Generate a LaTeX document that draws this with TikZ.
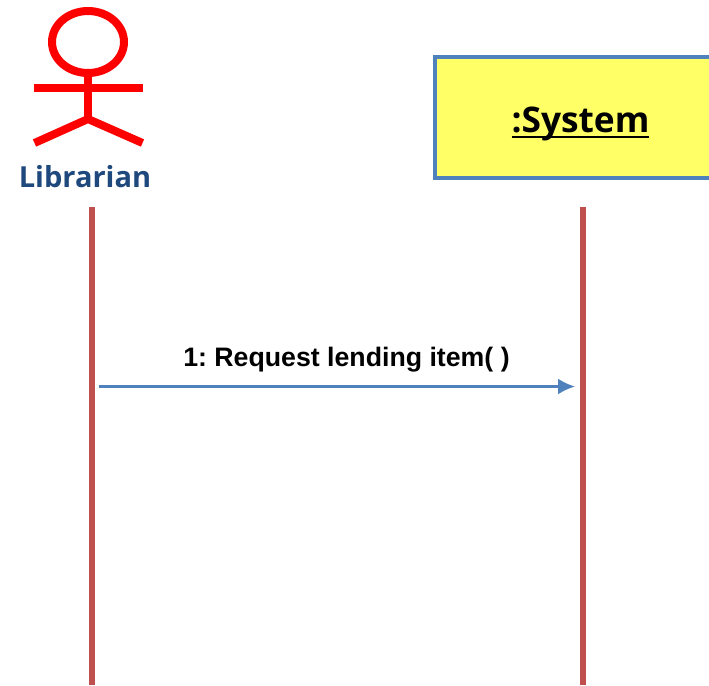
\documentclass[tikz,border=0pt]{standalone}
\usepackage{fontspec}
\setmainfont{Liberation Sans}
\newfontfamily\labelfont{Open Sans}
\usetikzlibrary{arrows.meta}
\definecolor{actorred}{HTML}{FF0000}
\definecolor{lifered}{HTML}{C0504D}
\definecolor{msgblue}{HTML}{4F81BD}
\definecolor{boxyellow}{HTML}{FFFF66}
\definecolor{navy}{HTML}{1F497D}
\newcommand{\thickunder}[1]{\vtop{\hbox{\smash{#1}}\kern4pt\hrule height 2pt}}
\tikzset{
  actorline/.style={draw=actorred,line width=8pt},
  lifeline/.style={draw=lifered,line width=6pt},
  message/.style={draw=msgblue,line width=2.5pt,-{Latex[length=17pt,width=16pt]}},
  objbox/.style={draw=msgblue,fill=boxyellow,line width=4pt}
}
\begin{document}
\begin{tikzpicture}[x=1pt,y=-1pt]
\useasboundingbox (0,0) rectangle (709,685);
% actor
\draw[actorline] (88,42) ellipse [x radius=36,y radius=31];
\coordinate (neck) at (88,74);
\coordinate (hip) at (88,119);
\coordinate (armL) at (34,88);
\coordinate (armR) at (143,88);
\coordinate (legL) at (34.5,143);
\coordinate (legR) at (142.5,143);
\draw[actorline] (neck) -- (hip);
\draw[actorline] (armL) -- (armR);
\draw[actorline,line join=miter] (legL) -- (hip) -- (legR);
\node[font=\labelfont\bfseries\fontsize{29}{29}\selectfont,text=navy,anchor=base,inner sep=0pt] (lib) at (85,187) {Librarian};
% system box
\path[objbox] (435,57) rectangle (720,178);
\node[font=\labelfont\bfseries\fontsize{35.3}{35.3}\selectfont,anchor=base,inner sep=0pt] (sys) at (580.5,132) {\thickunder{:System}};
% lifelines
\coordinate (l1top) at (92.2,207);
\coordinate (l1bot) at (92.2,685);
\coordinate (l2top) at (582.5,207);
\coordinate (l2bot) at (582.5,685);
\draw[lifeline] (l1top) -- (l1bot);
\draw[lifeline] (l2top) -- (l2bot);
% message
\coordinate (m1) at (99,386.5);
\coordinate (m2) at (575,386.5);
\draw[message] (m1) -- (m2);
\node[font=\bfseries\fontsize{26.7}{26.7}\selectfont,anchor=base,inner sep=0pt] (msg) at (346.5,366) {\frenchspacing 1: Request lending item( )};
\end{tikzpicture}
\end{document}
